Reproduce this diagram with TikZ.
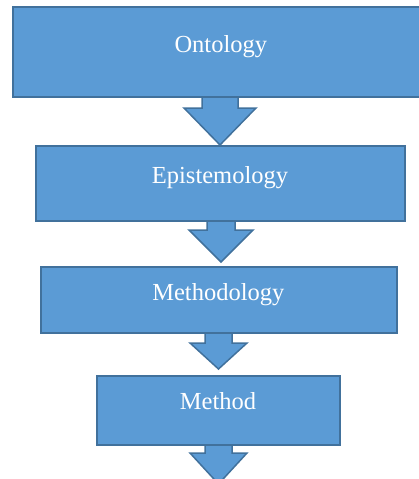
\documentclass[tikz,border=0pt]{standalone}
\usepackage{fontspec}
\setmainfont{Liberation Serif}
\definecolor{stepfill}{HTML}{5B9BD5}
\definecolor{stepline}{HTML}{41719C}
\tikzset{
  stepbox/.style={draw=stepline, fill=stepfill, line width=1.5pt,
    rectangle, inner sep=0pt, outer sep=0pt},
  steplabel/.style={text=white, font=\fontsize{24.5}{28}\selectfont,
    inner sep=0pt, anchor=base},
  arrowfill/.style={fill=stepfill},
  arrowline/.style={draw=stepline, line width=1.5pt, line join=miter}
}
% block arrow hanging below a box: #1 box, #2 centre x, #3 shaft half width,
% #4 head half width, #5 top of head, #6 tip
\newcommand\blockarrow[6]{%
  \fill[arrowfill] ({#2-#3},0 |- #1.south) ++(0,1.2) -- ({#2-#3},#5) -- ({#2-#4},#5)
    -- (#2,#6) -- ({#2+#4},#5) -- ({#2+#3},#5) -- ({#2+#3},0 |- #1.south) -- ++(0,1.2) -- cycle;
  \draw[arrowline] ({#2-#3},0 |- #1.south) -- ({#2-#3},#5) -- ({#2-#4},#5)
    -- (#2,#6) -- ({#2+#4},#5) -- ({#2+#3},#5) -- ({#2+#3},0 |- #1.south);
}
\begin{document}
\begin{tikzpicture}[x=1pt, y=-1pt]
  \useasboundingbox (0,0) rectangle (419,479);
  \clip (0,0) rectangle (419,479);

  % boxes
  \node[stepbox, minimum width=409pt, minimum height=90pt] (b1) at (217.5,52) {};
  \node[stepbox, minimum width=369pt, minimum height=75pt] (b2) at (220.5,183.5) {};
  \node[stepbox, minimum width=356pt, minimum height=66pt] (b3) at (219,300) {};
  \node[stepbox, minimum width=243pt, minimum height=69pt] (b4) at (218.5,410.5) {};

  % labels
  \node[steplabel] (t1) at (220.8,52.7) {Ontology};
  \node[steplabel] (t2) at (220,183.3) {Epistemology};
  \node[steplabel] (t3) at (218.3,300) {Methodology};
  \node[steplabel] (t4) at (218,409.3) {Method};

  % arrows between the steps
  \blockarrow{b1}{220}{18}{36}{108}{145}
  \blockarrow{b2}{221}{14}{32}{230}{262}
  \blockarrow{b3}{218.5}{13.5}{28.5}{343}{369}
  \blockarrow{b4}{218.5}{13.5}{28.5}{453}{484}
\end{tikzpicture}
\end{document}
